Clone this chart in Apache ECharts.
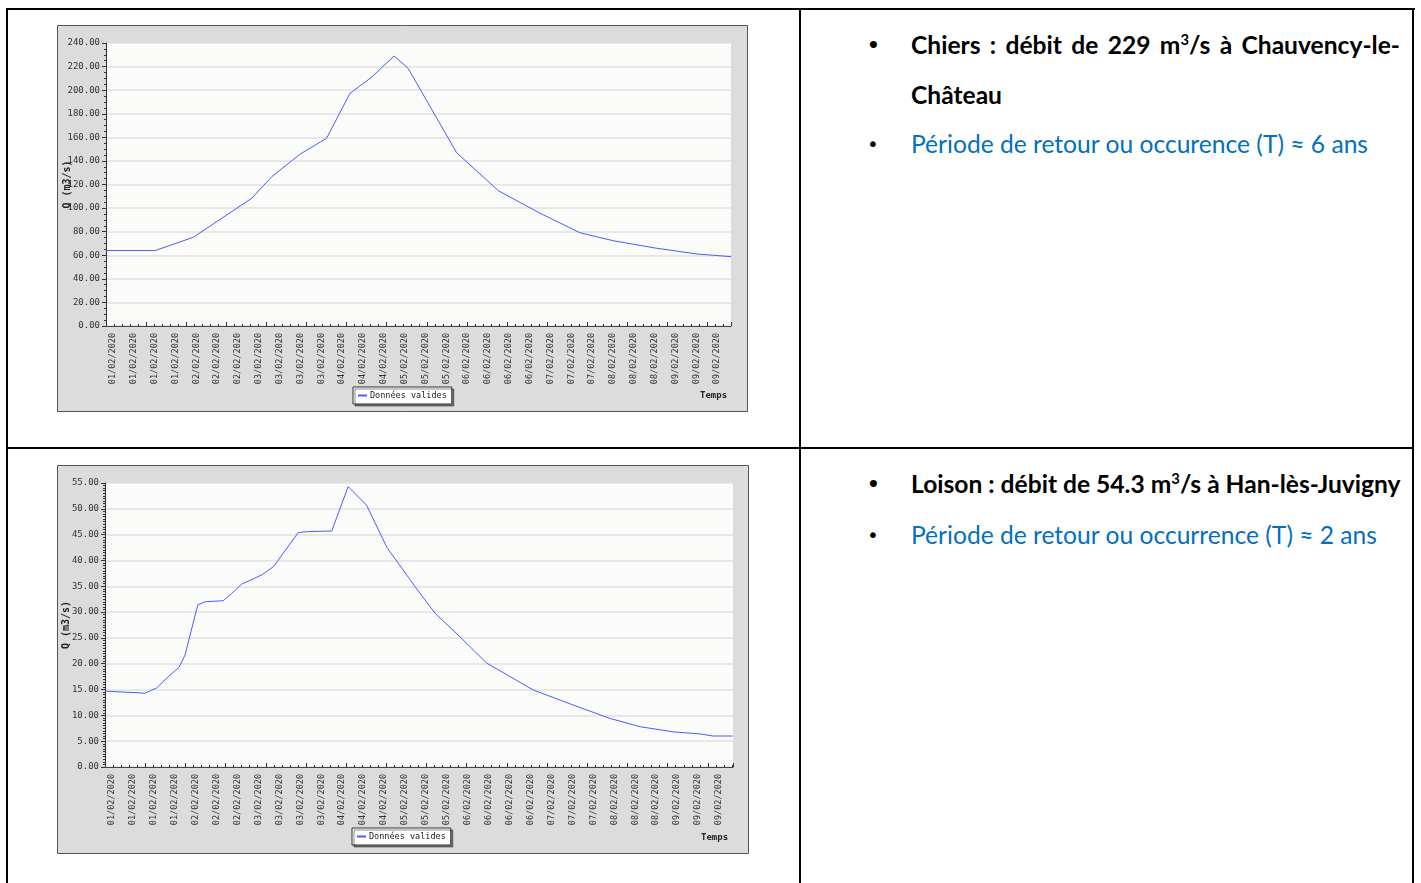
<!DOCTYPE html>
<html><head><meta charset="utf-8">
<script src="https://cdn.jsdelivr.net/npm/echarts@6/dist/echarts.min.js"></script>
<style>
html,body{margin:0;padding:0;background:#fff;width:1421px;height:883px;overflow:hidden;}
.ln{position:absolute;background:#000;}
.chart{position:absolute;}
.item{position:absolute;left:911px;width:489px;font-family:Lato,'Open Sans',sans-serif;font-size:24.6px;line-height:50px;white-space:nowrap;}
.b{font-weight:bold;color:#000;}
.blue{color:#0070c0;}
.just{text-align:justify;text-align-last:justify;}
.dot{position:absolute;left:-44px;top:0;font-family:'DejaVu Sans',sans-serif;font-size:20px;color:#000;}
sup{font-size:0.6em;line-height:0;vertical-align:0.62em;}
</style></head><body>
<div class="ln" style="left:6px;top:8px;width:1409px;height:2px"></div>
<div class="ln" style="left:6px;top:8px;width:2px;height:875px"></div>
<div class="ln" style="left:799px;top:8px;width:2px;height:875px"></div>
<div class="ln" style="left:1412px;top:8px;width:2px;height:875px"></div>
<div class="ln" style="left:6px;top:447px;width:1408px;height:2px"></div>

<div id="c1" class="chart" style="left:57px;top:25px;width:691px;height:387px"></div>
<div id="c2" class="chart" style="left:57px;top:465px;width:692px;height:389px"></div>

<div class="item b" style="top:20px">
  <span class="dot">•</span>
  <div class="just">Chiers : débit de 229 m<sup>3</sup>/s à Chauvency-le-</div>
  <div>Château</div>
</div>
<div class="item blue" style="top:119px"><span class="dot">•</span>Période de retour ou occurence (T) ≈ 6 ans</div>

<div class="item b" style="top:459px"><span class="dot">•</span>Loison : débit de 54.3 m<sup>3</sup>/s à Han-lès-Juvigny</div>
<div class="item blue" style="top:510px"><span class="dot">•</span>Période de retour ou occurrence (T) ≈ 2 ans</div>

<script>
// ---- data ----
const xLabels = ['01/02/2020','01/02/2020','01/02/2020','01/02/2020',
  '02/02/2020','02/02/2020','02/02/2020',
  '03/02/2020','03/02/2020','03/02/2020','03/02/2020',
  '04/02/2020','04/02/2020','04/02/2020',
  '05/02/2020','05/02/2020','05/02/2020',
  '06/02/2020','06/02/2020','06/02/2020','06/02/2020',
  '07/02/2020','07/02/2020','07/02/2020',
  '08/02/2020','08/02/2020','08/02/2020',
  '09/02/2020','09/02/2020','09/02/2020'];

// hours since start of plotted period
const chiersHours = [0, 14.7, 26.1, 43.6, 49.6, 58.0, 66.0, 73.0, 79.5, 86.2, 90.4, 104.9, 117.4, 129.9, 141.8, 151.8, 164.8, 176.7, 187];
const chiersFlow  = [64, 64, 75.2, 108.3, 126.6, 145.6, 159.2, 197.3, 211, 229, 218.5, 147.0, 114.7, 95.6, 79.1, 72.3, 65.9, 61.1, 58.8];

const loisonHours = [0, 6.0, 11.9, 15.4, 18.9, 22.1, 23.9, 27.7, 29.9, 35.3, 37.8, 40.8, 46.8, 50.3, 57.7, 60.7, 67.7, 72.6, 78.1, 84.2, 92.6, 98.5, 106.0, 114.0, 127.9, 139.8, 150.8, 159.8, 169.7, 177.7, 181.6, 187.4];
const loisonFlow  = [14.7, 14.5, 14.3, 15.3, 17.5, 19.3, 21.7, 31.4, 32.0, 32.2, 33.6, 35.4, 37.2, 38.8, 45.4, 45.6, 45.7, 54.3, 50.7, 42.5, 34.9, 29.8, 25.2, 20.1, 14.9, 12.0, 9.4, 7.8, 6.8, 6.4, 6.0, 6.0];

const yAxisName = 'Q (m3/s)';
const seriesName = 'Données valides';
const xAxisName = 'Temps';

const MONO = "'DejaVu Sans Mono', monospace";

function makeOption(c) {
  const pairs = c.hours.map((h, i) => [h, c.flow[i]]);
  return {
    animation: false,
    backgroundColor: '#dcdcdc',
    graphic: [{type:'rect', shape:{x:0.5, y:0.5, width:c.W-1, height:c.H-1}, style:{fill:null, stroke:'#555', lineWidth:1}, silent:true}],
    title: {text: xAxisName, left: c.tempsX, top: c.tempsY, padding: 0,
      textStyle:{fontFamily: MONO, fontSize: 9, fontWeight:'bold', color:'#222'}},
    legend: {
      left: c.legX, top: c.legY, padding:[4,5,4,5],
      backgroundColor:'#fff', borderColor:'#333', borderWidth:1,
      shadowColor:'rgba(0,0,0,0.45)', shadowBlur:0, shadowOffsetX:2, shadowOffsetY:2,
      icon:'rect', itemWidth:9, itemHeight:2, itemGap:4,
      textStyle:{fontFamily: MONO, fontSize: 8.5, color:'#222', padding:[0,0,0,-2]},
      data:[seriesName]
    },
    grid: [
      {left:c.gl, top:c.gt, width:c.gw, height:c.gh, show:true, backgroundColor:'#fbfbf9', borderWidth:0,
        containLabel:false, outerBoundsMode:'none'},
      {left:c.gl + 7, top:c.gt, width:29 * c.gw / 30, height:c.gh, show:false,
        containLabel:false, outerBoundsMode:'none'}
    ],
    xAxis: [
      {type:'value', gridIndex:0, min:0, max:c.xMax, interval:12,
        axisLine:{show:true, onZero:false, lineStyle:{color:'#444', width:1}},
        axisTick:{show:true, inside:true, length:4, lineStyle:{color:'#333'}},
        minorTick:{show:true, splitNumber:5, length:2, lineStyle:{color:'#333'}},
        axisLabel:{show:false}, splitLine:{show:false}},
      {type:'value', gridIndex:1, min:0, max:29, interval:1,
        axisLine:{show:false}, axisTick:{show:false}, splitLine:{show:false},
        axisLabel:{show:true, rotate:90, margin:7, fontFamily:MONO, fontSize:8.5, color:'#333',
          formatter: v => xLabels[Math.round(v)] || ''}}
    ],
    yAxis: [
      {type:'value', gridIndex:0, min:0, max:c.yMax, interval:c.yInt,
        name: yAxisName, nameLocation:'middle', nameRotate:90, nameGap:c.nameGap, nameMoveOverlap:false,
        nameTextStyle:{fontFamily:MONO, fontSize:10, fontWeight:'bold', color:'#222'},
        axisLine:{show:true, lineStyle:{color:'#333', width:1}},
        axisTick:{show:true, length:4, lineStyle:{color:'#333'}},
        minorTick:{show:true, splitNumber:c.yMinor, length:2, lineStyle:{color:'#333'}},
        axisLabel:{margin:6, fontFamily:MONO, fontSize:9, color:'#333', formatter: v => v.toFixed(2)},
        splitLine:{show:true, lineStyle:{color:'#e0e0e0', width:1.5}}},
      {type:'value', gridIndex:1, show:false}
    ],
    series: [{
      name: seriesName, type:'line', xAxisIndex:0, yAxisIndex:0,
      data: pairs, showSymbol:false, symbol:'none',
      lineStyle:{color:'#4a5cff', width:1}, itemStyle:{color:'#4a5cff'}
    }]
  };
}

const c1 = echarts.init(document.getElementById('c1'), null, {renderer:'canvas'});
c1.setOption(makeOption({hours:chiersHours, flow:chiersFlow, W:691, H:387,
  gl:49, gt:18, gw:625, gh:283, xMax:187, yMax:240, yInt:20, yMinor:4, nameGap:34,
  legX:296, legY:362, tempsX:643, tempsY:366}));

const c2 = echarts.init(document.getElementById('c2'), null, {renderer:'canvas'});
c2.setOption(makeOption({hours:loisonHours, flow:loisonFlow, W:692, H:389,
  gl:48, gt:18, gw:628, gh:284, xMax:187.5, yMax:55, yInt:5, yMinor:10, nameGap:34,
  legX:295, legY:363, tempsX:644, tempsY:368}));
</script>
</body></html>
